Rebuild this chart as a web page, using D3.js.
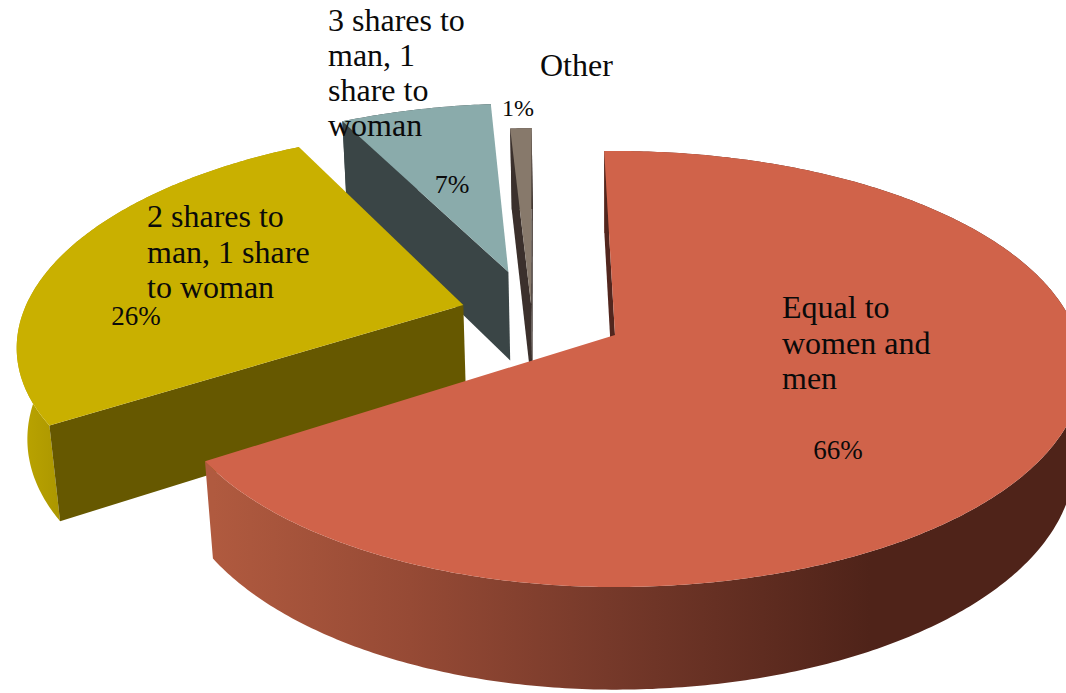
<!DOCTYPE html>
<html>
<head>
<meta charset="utf-8">
<script src="https://cdn.jsdelivr.net/npm/d3@7"></script>
<style>
html,body{margin:0;padding:0;background:#fff;overflow:hidden}
text{font-family:"Liberation Serif",serif;fill:#0a0a0a}
</style>
</head>
<body>
<svg id="c" width="1066" height="693"></svg>
<script>
// Data
const categories = ["Equal to women and men", "2 shares to man, 1 share to woman", "3 shares to man, 1 share to woman", "Other"];
const shareValues = [66.3, 26.3, 6.5, 0.9];
const categoryLines = [["Equal to","women and","men"],["2 shares to","man, 1 share","to woman"],["3 shares to","man, 1","share to","woman"],["Other"]];

// Layout and style
const W = 1066, H = 693;
const topColors = ["#d0634a","#c9b000","#8aabab","#87796b"];
const radialColors = ["#52261e","#665800","#3a4546","#3b302c"];
const outerColors = ["url(#redWall)","url(#yellowWall)","#3a4546","#3b302c"];
const explode = [[0,0],[-0.347,-0.144],[-0.25,-0.31],[-0.192,-0.147]];
const nameLayout = [{x:782,y:318,size:32,lh:35.5},{x:147,y:227,size:32,lh:35.5},{x:328,y:31,size:32,lh:35},{x:540,y:76,size:32,lh:35}];
const pctLayout = [{x:838,y:459,size:27},{x:136,y:325,size:27},{x:452,y:193,size:26},{x:518,y:116,size:24}];
const cam = {cx:615, cy:335, rxLeft:447, rxRight:462, ry:212.7, k:0.156, m:0.018, d:93};

function project(gx, gy, z){
  const w = 1 - cam.k*gy + cam.m*z;
  const rx = gx < 0 ? cam.rxLeft : cam.rxRight;
  return [cam.cx + rx*gx/w, cam.cy + (cam.ry*gy + cam.d*z)/w];
}

const startDeg = -1.6;
const pie = d3.pie().sort(null).value(d=>d)
  .startAngle(startDeg*Math.PI/180).endAngle((startDeg+360)*Math.PI/180);
const arcs = pie(shareValues);

const svg = d3.select("#c");
const defs = svg.append("defs");
function grad(id, x1, x2, stops){
  const g = defs.append("linearGradient").attr("id",id).attr("gradientUnits","userSpaceOnUse")
    .attr("x1",x1).attr("x2",x2).attr("y1",0).attr("y2",0);
  stops.forEach(s=>g.append("stop").attr("offset",s[0]).attr("stop-color",s[1]));
}
grad("redWall",213,870,[[0,"#b05a3f"],[0.3,"#964a35"],[0.6,"#76392a"],[1,"#4f2319"]]);
grad("yellowWall",15,60,[[0,"#bda600"],[1,"#ac9700"]]);

const line = d3.line().curve(d3.curveLinear);
const closed = pts => line(pts) + "Z";

function ptAt(theta, radius, off, z){
  return project(off[0] + radius*Math.sin(theta), off[1] - radius*Math.cos(theta), z);
}

// Back-to-front: the smallest exploded slices are furthest away
const order = [3,2,1,0];
order.forEach(i=>{
  const a = arcs[i], off = explode[i];
  const n = Math.max(8, Math.ceil((a.endAngle-a.startAngle)*90));
  const thetas = d3.range(n+1).map(j=>a.startAngle + (a.endAngle-a.startAngle)*j/n);
  const g = svg.append("g").attr("class","slice");

  const apexTop = ptAt(0,0,off,0), apexBot = ptAt(0,0,off,1);
  const startQuad = [ptAt(a.startAngle,1,off,0), apexTop, apexBot, ptAt(a.startAngle,1,off,1)];
  const endQuad = [apexTop, ptAt(a.endAngle,1,off,0), ptAt(a.endAngle,1,off,1), apexBot];
  const wall = thetas.map(t=>ptAt(t,1,off,0)).concat(thetas.slice().reverse().map(t=>ptAt(t,1,off,1)));
  g.append("path").attr("d",closed(wall)).attr("fill",outerColors[i]);
  [endQuad,startQuad].forEach(q=>{
    if (d3.polygonArea(q) < 0) g.append("path").attr("d",closed(q)).attr("fill",radialColors[i]);
  });
  const top = [apexTop].concat(thetas.map(t=>ptAt(t,1,off,0)));
  g.append("path").attr("d",closed(top)).attr("fill",topColors[i]);
});

// Labels
categoryLines.forEach((lines,i)=>{
  const L = nameLayout[i];
  const t = svg.append("text").attr("font-size",L.size);
  lines.forEach((s,j)=>t.append("tspan").attr("x",L.x).attr("y",L.y+j*L.lh).text(s));
});
shareValues.forEach((v,i)=>{
  const L = pctLayout[i];
  svg.append("text").attr("x",L.x).attr("y",L.y).attr("text-anchor","middle")
    .attr("font-size",L.size).text(Math.round(v)+"%");
});
</script>
</body>
</html>
